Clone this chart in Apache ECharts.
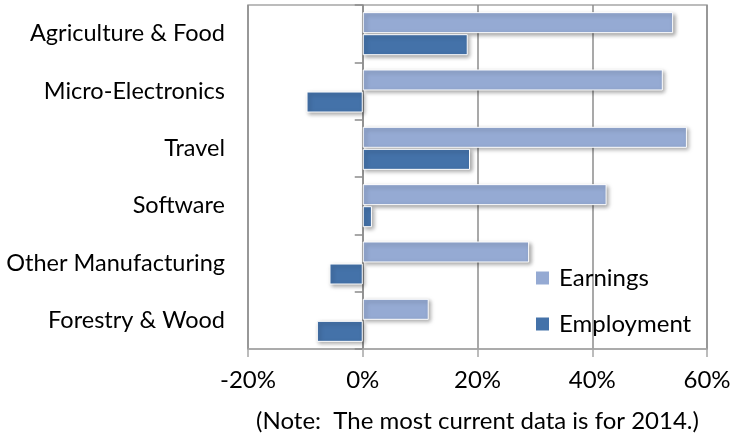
<!DOCTYPE html>
<html>
<head>
<meta charset="utf-8">
<script src="https://cdn.jsdelivr.net/npm/echarts@6/dist/echarts.min.js"></script>
<style>
  html, body { margin: 0; padding: 0; background: #fff; }
  #chart { width: 733px; height: 433px; }
</style>
</head>
<body>
<div id="chart"></div>
<script>
// sectors, top to bottom
var categories = ['Agriculture & Food', 'Micro-Electronics', 'Travel', 'Software', 'Other Manufacturing', 'Forestry & Wood'];
// percent change
var earnings = [54.1, 52.3, 56.5, 42.5, 29.0, 11.5];
var employment = [18.3, -9.8, 18.7, 1.6, -5.8, -8.0];
var xTicks = [-20, 0, 20, 40, 60];

var FONT = 'Lato';

var barStyle = function (color) {
	return {
		color: color,
		borderColor: '#fff',
		borderWidth: 1,
		shadowColor: 'rgba(0,0,0,0.35)',
		shadowBlur: 4,
		shadowOffsetX: 2,
		shadowOffsetY: 2
	};
};

var myChart = echarts.init(document.getElementById('chart'));
var options = {
	animation: false,
	textStyle: { fontFamily: FONT },
	grid: {
		left: 248, right: 26, top: 5, bottom: 84,
		outerBoundsMode: 'none',
		containLabel: false,
		show: true, borderColor: '#a6a6a6', borderWidth: 1.5
	},
	legend: {
		orient: 'vertical',
		left: 531, top: 261,
		icon: 'rect',
		itemWidth: 13, itemHeight: 13,
		itemGap: 22,
		itemStyle: { borderWidth: 0, shadowBlur: 0, shadowOffsetX: 0, shadowOffsetY: 0 },
		textStyle: { fontSize: 24, color: '#000', fontFamily: FONT, padding: [0, 0, 0, 5] },
		data: ['Earnings', 'Employment']
	},
	xAxis: {
		type: 'value',
		min: xTicks[0], max: xTicks[xTicks.length - 1], interval: 20,
		axisLine: { show: true, onZero: false, lineStyle: { color: '#a6a6a6', width: 1.5 } },
		axisTick: { show: true, length: 8, lineStyle: { color: '#a6a6a6', width: 1.5 } },
		splitLine: { show: true, lineStyle: { color: '#8c8c8c', width: 1.5 } },
		axisLabel: {
			fontSize: 24, color: '#000', margin: 19,
			formatter: function (v) { return v + '%'; }
		},
		name: '(Note:  The most current data is for 2014.)',
		nameLocation: 'middle',
		nameGap: 60,
		nameTextStyle: { fontSize: 24, color: '#000', fontFamily: FONT }
	},
	yAxis: [
		{	// zero line with ticks
			type: 'category',
			data: categories,
			inverse: true,
			axisLine: { show: true, onZero: true, lineStyle: { color: '#8c8c8c', width: 1.5 } },
			axisTick: { show: true, length: 8, lineStyle: { color: '#8c8c8c', width: 1.5 } },
			axisLabel: { show: false },
			splitLine: { show: false }
		},
		{	// category labels at the left
			type: 'category',
			data: categories,
			inverse: true,
			position: 'left',
			axisLine: { show: false, onZero: false },
			axisTick: { show: false },
			axisLabel: { fontSize: 23.5, color: '#000', margin: 23 },
			splitLine: { show: false }
		}
	],
	series: [
		{
			name: 'Earnings',
			type: 'bar',
			yAxisIndex: 0,
			data: earnings,
			barWidth: 21,
			barGap: '5%',
			itemStyle: barStyle('#95aad3')
		},
		{
			name: 'Employment',
			type: 'bar',
			yAxisIndex: 0,
			data: employment,
			barWidth: 21,
			barGap: '5%',
			itemStyle: barStyle('#4472a9')
		}
	]
};
myChart.setOption(options);
</script>
</body>
</html>
